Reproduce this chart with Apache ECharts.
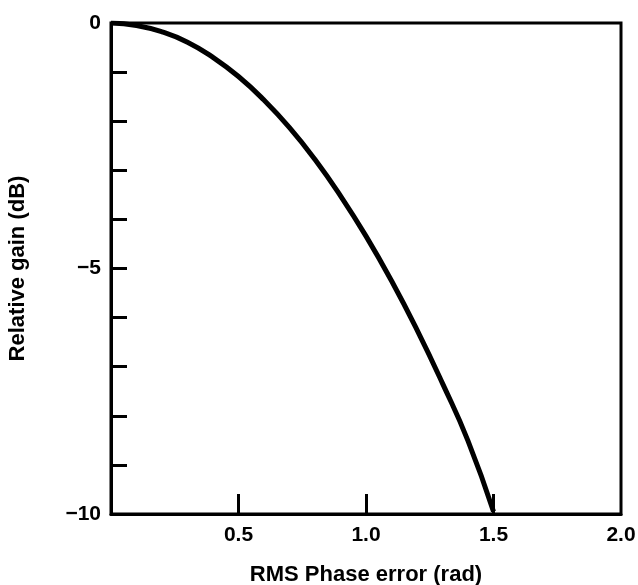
<!DOCTYPE html>
<html>
<head>
<meta charset="utf-8">
<script src="https://cdn.jsdelivr.net/npm/echarts@6/dist/echarts.min.js"></script>
<style>
  html, body { margin: 0; padding: 0; background: #fff; }
  #chart { width: 638px; height: 585px; }
</style>
</head>
<body>
<div id="chart"></div>
<script>
// RMS phase error (rad) vs relative gain (dB)
const phaseError = [0, 0.1, 0.2, 0.3, 0.4, 0.5, 0.6, 0.7, 0.8, 0.9, 1.0, 1.1, 1.2, 1.3, 1.4, 1.5];
const relGain = [0, -0.05, -0.18, -0.39, -0.70, -1.09, -1.57, -2.13, -2.78, -3.52, -4.34, -5.25, -6.25, -7.34, -8.51, -9.95];

const xTickValues = [0.5, 1.0, 1.5];
const xLabelValues = [0.5, 1.0, 1.5, 2.0];
const yTickValues = [-1, -2, -3, -4, -5, -6, -7, -8, -9];
const yLabelValues = [0, -5, -10];

const font = '"Liberation Sans", Arial, sans-serif';

const myChart = echarts.init(document.getElementById('chart'));

const option = {
  animation: false,
  backgroundColor: '#fff',
  grid: {
    left: 111, right: 17, top: 23, bottom: 71,
    outerBoundsMode: 'none',
    containLabel: false,
    show: true,
    borderColor: '#000',
    borderWidth: 3
  },
  xAxis: {
    type: 'value',
    min: 0, max: 2, interval: 0.5,
    name: 'RMS Phase error (rad)',
    nameLocation: 'middle',
    nameGap: 50,
    nameTextStyle: { color: '#000', fontFamily: font, fontWeight: 'bold', fontSize: 22 },
    axisLine: { onZero: false, lineStyle: { color: '#000', width: 3 } },
    axisTick: { inside: true, length: 20, customValues: xTickValues, lineStyle: { color: '#000', width: 3 } },
    axisLabel: {
      customValues: xLabelValues,
      margin: 11,
      color: '#000', fontFamily: font, fontWeight: 'bold', fontSize: 21,
      formatter: v => v.toFixed(1)
    },
    splitLine: { show: false }
  },
  yAxis: {
    type: 'value',
    min: -10, max: 0, interval: 1,
    name: 'Relative gain (dB)',
    nameLocation: 'middle',
    nameGap: 82,
    nameTextStyle: { color: '#000', fontFamily: font, fontWeight: 'bold', fontSize: 22 },
    axisLine: { onZero: false, lineStyle: { color: '#000', width: 3 } },
    axisTick: { inside: true, length: 16, customValues: yTickValues, lineStyle: { color: '#000', width: 3 } },
    axisLabel: {
      customValues: yLabelValues,
      margin: 10,
      color: '#000', fontFamily: font, fontWeight: 'bold', fontSize: 21,
      formatter: v => (v < 0 ? '\u2212' + Math.abs(v) : String(v))
    },
    splitLine: { show: false }
  },
  series: [{
    type: 'line',
    data: phaseError.map((x, i) => [x, relGain[i]]),
    smooth: true,
    symbol: 'none',
    lineStyle: { color: '#000', width: 5 }
  }]
};

option && myChart.setOption(option);
</script>
</body>
</html>
